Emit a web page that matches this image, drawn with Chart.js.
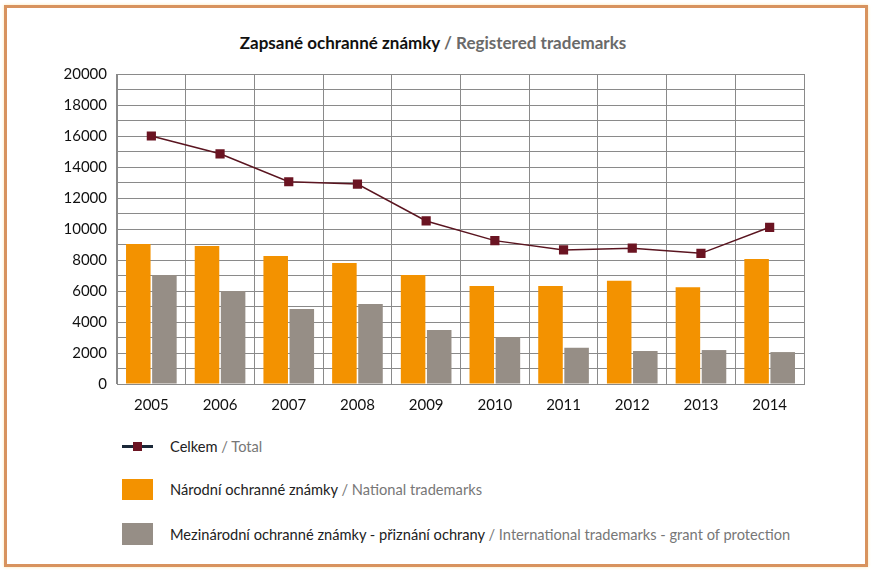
<!DOCTYPE html>
<html>
<head>
<meta charset="utf-8">
<script src="https://cdn.jsdelivr.net/npm/chart.js@4.4.1/dist/chart.umd.min.js"></script>
<style>
  html, body { margin: 0; padding: 0; background: #fff; }
  #wrap { position: relative; width: 872px; height: 570px; overflow: hidden; font-family: Lato, "Open Sans", sans-serif; }
  #frame { position: absolute; left: 4px; top: 5px; width: 858px; height: 556px; border: 3px solid #D8935E; box-shadow: 0 0 3px #fbe6b0; }
  #title { position: absolute; left: 0; width: 866px; top: 32px; text-align: center; font-size: 17px; font-weight: 700; color: #111; }
  #title .en { color: #6a6a6a; }
  #chartBox { position: absolute; left: 0; top: 0; width: 872px; height: 420px; }
  .leg { position: absolute; left: 170px; font-size: 16px; color: #222; white-space: nowrap; transform: scaleX(0.915); transform-origin: left center; }
  .leg .en { color: #777; }
  .sw { position: absolute; left: 122px; width: 31px; }
</style>
</head>
<body>
<div id="wrap">
  <div id="frame"></div>
  <div id="title">Zapsané ochranné známky <span class="en">/ Registered trademarks</span></div>
  <div id="chartBox"><canvas id="c" width="872" height="420"></canvas></div>

  <div class="sw" style="top:445px;height:3px;background:#1b2838;"></div>
  <div class="sw" style="top:442px;left:133px;width:9px;height:9px;background:#6b1422;"></div>
  <div class="leg" style="top:436px;">Celkem <span class="en">/ Total</span></div>

  <div class="sw" style="top:479px;height:21px;background:#F39200;"></div>
  <div class="leg" style="top:479px;">Národní ochranné známky <span class="en">/ National trademarks</span></div>

  <div class="sw" style="top:523px;height:22px;background:#968E86;"></div>
  <div class="leg" style="top:524px;">Mezinárodní ochranné známky - přiznání ochrany <span class="en">/ International trademarks - grant of protection</span></div>
</div>
<script>
const years = ['2005','2006','2007','2008','2009','2010','2011','2012','2013','2014'];
const totalValues = [16000, 14850, 13050, 12900, 10520, 9250, 8650, 8760, 8430, 10110];
const nationalValues = [9030, 8900, 8260, 7800, 7030, 6320, 6320, 6660, 6240, 8060];
const internationalValues = [7030, 6000, 4840, 5160, 3480, 3030, 2340, 2130, 2190, 2060];
const yMin = 0, yMax = 20000, yStep = 1000, yLabelStep = 2000;

new Chart(document.getElementById('c'), {
  type: 'bar',
  data: {
    labels: years,
    datasets: [
      {
        type: 'line', label: 'Celkem / Total', data: totalValues,
        borderColor: '#5a1520', borderWidth: 1.5, backgroundColor: '#6b1422',
        pointStyle: 'rect', pointRadius: 6.5, pointBorderWidth: 0, pointBackgroundColor: '#6b1422',
        order: 0, tension: 0
      },
      {
        label: 'Národní ochranné známky / National trademarks', data: nationalValues,
        backgroundColor: '#F39200', order: 1,
        categoryPercentage: 0.76, barPercentage: 0.94
      },
      {
        label: 'Mezinárodní ochranné známky - přiznání ochrany / International trademarks - grant of protection',
        data: internationalValues, backgroundColor: '#968E86', order: 1,
        categoryPercentage: 0.76, barPercentage: 0.94
      }
    ]
  },
  options: {
    responsive: false,
    animation: false,
    layout: { padding: { left: 0, right: 68, top: 74, bottom: 0 } },
    plugins: { legend: { display: false }, tooltip: { enabled: false }, title: { display: false } },
    scales: {
      x: {
        grid: { color: '#8a8a8a', lineWidth: 1, drawTicks: false, offset: true },
        border: { color: '#8a8a8a' },
        ticks: { color: '#111', font: { family: 'Lato', size: 15 }, padding: 12 },
        afterFit: s => { s.height = 36; }
      },
      y: {
        min: yMin, max: yMax,
        grid: { color: '#8a8a8a', lineWidth: 1, drawTicks: false },
        border: { color: '#8a8a8a' },
        ticks: {
          stepSize: yStep, autoSkip: false, color: '#111',
          font: { family: 'Lato', size: 15 }, padding: 10,
          callback: v => (v % yLabelStep === 0 ? String(v) : '')
        },
        afterFit: s => { s.width = 117; }
      }
    }
  }
});
</script>
</body>
</html>
